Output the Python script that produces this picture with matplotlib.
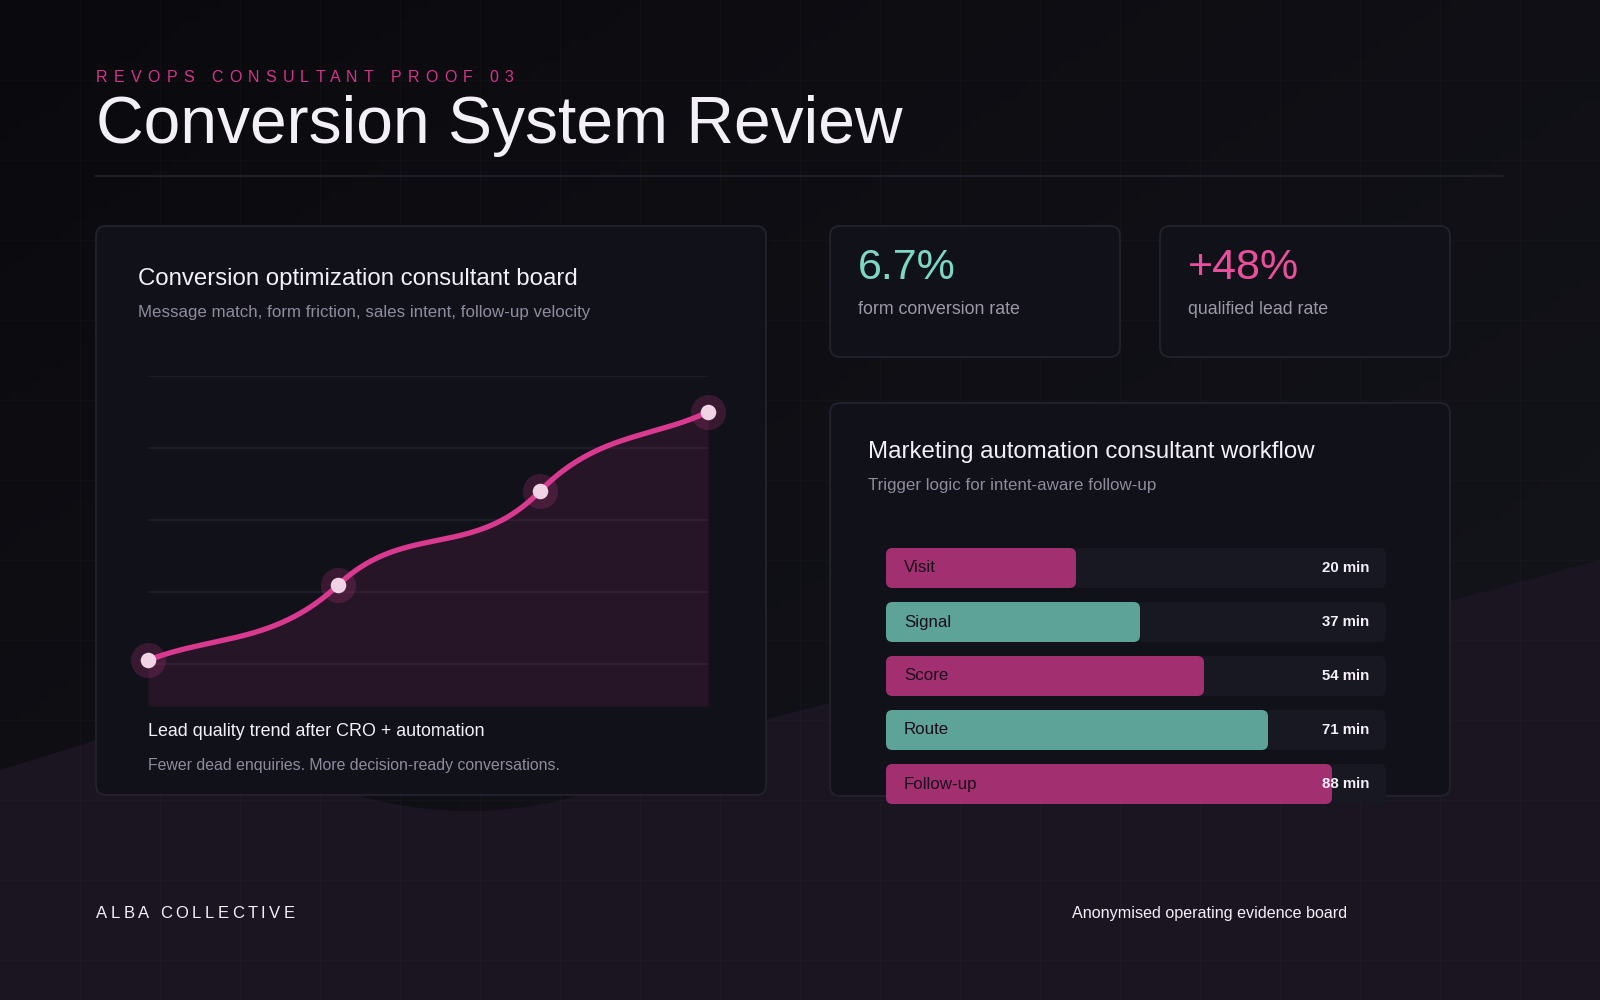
import numpy as np
import matplotlib.pyplot as plt
from matplotlib.patches import FancyBboxPatch, Polygon
from matplotlib.colors import LinearSegmentedColormap

plt.rcParams['font.family'] = ['Liberation Sans', 'DejaVu Sans']

trend_x = [0, 34, 70, 100]          # position along the review period (%)
trend_y = [21, 42, 68, 90]          # lead quality index
trend_grid = [20, 40, 60, 80, 100]

kpi_values = ['6.7%', '+48%']
kpi_labels = ['form conversion rate', 'qualified lead rate']
kpi_colors = ['#7cd8c4', '#ea4f9c']

stages = ['Visit', 'Signal', 'Score', 'Route', 'Follow-up']
stage_minutes = [20, 37, 54, 71, 88]
stage_fill = [38, 50.8, 63.6, 76.4, 89.2]   # bar length, % of track
stage_colors = ['#a23070', '#5da398', '#a23070', '#5da398', '#a23070']

W, H = 1600, 1000
fig = plt.figure(figsize=(16, 10), dpi=100)
bg = fig.add_axes([0, 0, 1, 1])
bg.set_xlim(0, W)
bg.set_ylim(H, 0)
bg.axis('off')

# background gradient (dark, a little lighter towards bottom right)
gx, gy = np.meshgrid(np.linspace(0, 1, 160), np.linspace(0, 1, 100))
cmap = LinearSegmentedColormap.from_list('bg', ['#0a0a0e', '#15151d'])
bg.imshow(0.5 * gx + 0.5 * gy, cmap=cmap, extent=(0, W, H, 0), aspect='auto', zorder=0)

# purple wave at the bottom, with a dark round bite under the left card
wx = np.linspace(0, W, 400)
wave = np.interp(wx, [0, 97, 250, 450, 620, 767, 830, 1450, 1600],
                 [770, 740, 724, 728, 732, 719, 703, 601, 560])
bite = 411 + np.sqrt(np.clip(400**2 - (wx - 468)**2, 0, None))
top = np.maximum(wave, np.where(np.abs(wx - 468) < 400, bite, 0))
verts = np.column_stack([np.r_[wx, W, 0], np.r_[top, H, H]])
bg.add_patch(Polygon(verts, closed=True, fc='#1b1521', ec='none', zorder=1))

# faint grid
for v in range(80, W, 80):
    bg.axvline(v, color='white', alpha=0.018, lw=1, zorder=2)
for v in range(80, H, 80):
    bg.axhline(v, color='white', alpha=0.018, lw=1, zorder=2)


def card(x0, y0, x1, y1):
    bg.add_patch(FancyBboxPatch((x0, y0), x1 - x0, y1 - y0,
                                boxstyle='round,pad=0,rounding_size=10',
                                fc='#11111a', ec='#23232d', lw=1.3, zorder=3))


def spaced(x, y, s, spacing, **kw):
    r = fig.canvas.get_renderer()
    probe = bg.text(0, 0, 'x', **kw)
    wx_ = probe.get_window_extent(r).width
    for i, ch in enumerate(s):
        if ch == ' ':
            continue
        probe.set_text(s[:i] + 'x')
        off = probe.get_window_extent(r).width - wx_ if i else 0
        bg.text(x + off + i * spacing, y, ch, **kw)
    probe.remove()


# header
spaced(96, 81.7, 'REVOPS CONSULTANT PROOF 03', 6.3, fontsize=11.5, color='#d6338a',
       va='baseline', zorder=5)
bg.text(96, 143.3, 'Conversion System Review', fontsize=47.5, color='#f4f0f8',
        va='baseline', zorder=5)
bg.plot([96, 1503], [175.5, 175.5], color='#1e1e28', lw=1.6, zorder=3)

# cards
card(96, 226, 766, 795)
card(830, 226, 1120, 357)
card(1160, 226, 1450, 357)
card(830, 403, 1450, 796)

# left card texts
bg.text(138, 284.5, 'Conversion optimization consultant board', fontsize=17.3,
        color='#f4f0f8', va='baseline', zorder=5)
bg.text(138, 317, 'Message match, form friction, sales intent, follow-up velocity',
        fontsize=12.2, color='#8f8b9c', va='baseline', zorder=5)
bg.text(148, 736, 'Lead quality trend after CRO + automation', fontsize=12.9,
        color='#f4f0f8', va='baseline', zorder=5)
bg.text(148, 770, 'Fewer dead enquiries. More decision-ready conversations.',
        fontsize=11.45, color='#8f8b9c', va='baseline', zorder=5)

# KPI cards
for i, x0 in enumerate([858, 1188]):
    bg.text(x0, 279, kpi_values[i], fontsize=31, color=kpi_colors[i],
            va='baseline', zorder=5)
    bg.text(x0, 314, kpi_labels[i], fontsize=12.8, color='#9d99a8',
            va='baseline', zorder=5)

# right card texts
bg.text(868, 458.3, 'Marketing automation consultant workflow', fontsize=17.3,
        color='#f4f0f8', va='baseline', zorder=5)
bg.text(868, 490, 'Trigger logic for intent-aware follow-up', fontsize=12.2,
        color='#8f8b9c', va='baseline', zorder=5)

# footer
spaced(96, 918, 'ALBA COLLECTIVE', 3.5, fontsize=12, color='#f4f0f8',
       va='baseline', zorder=5)
bg.text(1347, 918, 'Anonymised operating evidence board', fontsize=11.6,
        color='#f4f0f8', ha='right', va='baseline', zorder=5)

# ---- line chart ----
ax = fig.add_axes([148 / W, 1 - 706 / H, 560 / W, 330 / H])
ax.set_xlim(0, 100)
ax.set_ylim(8.3, 100)
ax.axis('off')
ax.patch.set_alpha(0)
for g in trend_grid:
    ax.axhline(g, color='#1d1d28', lw=1.6, zorder=1)

xs = np.array(trend_x, float)
ys = np.array(trend_y, float)
sec = np.diff(ys) / np.diff(xs)
tan = np.r_[sec[0], 2.2 * (sec[:-1] + sec[1:]) / 2, sec[-1]]
cx, cy = [], []
for k in range(len(xs) - 1):
    t = np.linspace(0, 1, 80)
    h = xs[k + 1] - xs[k]
    h00 = 2 * t**3 - 3 * t**2 + 1
    h10 = t**3 - 2 * t**2 + t
    h01 = -2 * t**3 + 3 * t**2
    h11 = t**3 - t**2
    cx.append(xs[k] + h * t)
    cy.append(h00 * ys[k] + h10 * h * tan[k] + h01 * ys[k + 1] + h11 * h * tan[k + 1])
cx = np.concatenate(cx)
cy = np.concatenate(cy)
ax.fill_between(cx, cy, 8.3, color='#d83a91', alpha=0.1, lw=0, zorder=2)
ax.plot(cx, cy, color='#d93a90', lw=3.8, solid_capstyle='round', clip_on=False, zorder=3)
ax.scatter(xs, ys, s=640, color='#d83a91', alpha=0.2, lw=0, clip_on=False, zorder=4)
ax.scatter(xs, ys, s=125, color='#f2d3e6', lw=0, clip_on=False, zorder=5)

# ---- workflow bars ----
bx = fig.add_axes([886 / W, 1 - 811 / H, 500 / W, 270 / H])
bx.set_xlim(0, 100)
bx.set_ylim(len(stages) - 0.5, -0.5)
bx.axis('off')
bx.patch.set_alpha(0)
asp = (1 / 54) / (1 / 5)
bh = 40 / 54
for i, name in enumerate(stages):
    bx.add_patch(FancyBboxPatch((0, i - bh / 2), 100, bh,
                                boxstyle='round,pad=0,rounding_size=1.3',
                                mutation_aspect=asp, fc='#181822', ec='none', zorder=1))
    bx.add_patch(FancyBboxPatch((0, i - bh / 2), stage_fill[i], bh,
                                boxstyle='round,pad=0,rounding_size=1.3',
                                mutation_aspect=asp, fc=stage_colors[i], ec='none', zorder=2))
    bx.text(3.6, i, name, fontsize=12.2, color='#1a0e1a', va='center', zorder=3)
    bx.text(96.6, i, f'{stage_minutes[i]} min', fontsize=10.8, color='#f5f0f7',
            fontweight='bold', ha='right', va='center', zorder=3)

fig.savefig('out.png', dpi=100, facecolor='#0b0b10')
